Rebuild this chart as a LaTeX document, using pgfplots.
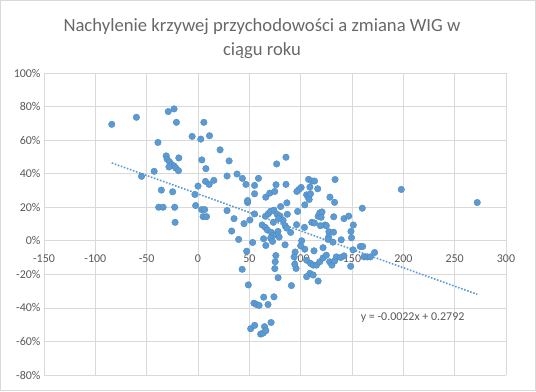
\documentclass[border=0pt]{standalone}
\usepackage{pgfplots}
\pgfplotsset{compat=1.18}
\usepackage{fontspec}
\setmainfont{Carlito}
\definecolor{ptblue}{RGB}{91,155,213}
\definecolor{txtgray}{RGB}{89,89,89}
\definecolor{titlegray}{RGB}{104,104,104}
\definecolor{gridgray}{RGB}{217,217,217}
\pgfplotstableread{
x y
-84 0.694
-60 0.736
-29 0.77
-23.3 0.786
-21 0.706
-39 0.586
-31 0.506
-18.7 0.494
-30 0.486
-27.7 0.47
-25.7 0.454
-23.3 0.446
-21.7 0.434
-19 0.418
-28.3 0.44
-42.7 0.414
-55 0.384
-35.7 0.302
-24.7 0.292
-38.3 0.2
-34 0.2
-22.7 0.2
-22.3 0.11
-5.7 0.622
2.7 0.606
5.7 0.706
3.7 0.482
7.7 0.43
0 0.326
-3 0.276
7.3 0.354
-2.3 0.21
3.5 0.186
6.5 0.186
5 0.144
8.3 0.144
11.2 0.626
21.5 0.542
30.3 0.476
15.4 0.36
10.9 0.336
28.3 0.386
38 0.398
43.2 0.372
46.7 0.336
28.3 0.18
35.1 0.132
32.8 0.058
44.8 0.102
50.6 0.124
48.3 0.228
48.3 0.24
55.1 0.33
55.1 0.28
39.6 0.008
58.9 0.372
55 0.16
76.6 0.458
85.7 0.498
76 0.334
85.7 0.336
66 0.26
69.9 0.284
74.7 0.294
86.6 0.226
80.5 0.204
107.7 0.366
111 0.356
113.5 0.356
116.6 0.31
109 0.32
100.5 0.318
98.4 0.306
96.3 0.294
105.8 0.274
107.4 0.26
108.3 0.246
109.6 0.28
104 0.214
133.5 0.365
128.5 0.26
133 0.229
160 0.194
65.7 0.146
68.6 0.162
70.8 0.176
74 0.182
77 0.158
79.9 0.148
87 0.158
73.4 0.11
97 0.175
117 0.146
118.6 0.166
120.8 0.172
119.9 0.14
110.8 0.11
113.4 0.106
123.8 0.094
132.2 0.143
142.2 0.132
146.8 0.147
78.4 0.132
82.9 0.122
62.5 0.094
65.5 0.08
67.6 0.064
71.5 0.05
77.9 0.056
73.4 0.032
70.8 0.016
79 0.022
63.9 0.012
84.9 0.09
86.3 0.076
90.2 0.05
96 0.096
103.7 0.08
101 0.0
119.2 0.09
125 0.09
127.5 0.054
127.2 0.022
126.6 0.008
132 0.051
139.5 0.006
149 0.056
149.5 0.018
151.3 0.094
53.2 -0.01
47.4 -0.062
43 -0.17
49 -0.263
54.5 -0.372
57 -0.38
59.5 -0.385
64 -0.336
68.2 -0.38
74 -0.334
51.3 -0.524
55.2 -0.504
61 -0.556
63.5 -0.55
64.8 -0.512
66.1 -0.536
71.2 -0.487
66.1 -0.028
72.6 -0.004
75.8 -0.088
75.2 -0.125
74.8 -0.166
78 -0.22
84.8 -0.024
91 -0.267
94.6 -0.067
93.6 -0.096
95.5 -0.165
94.2 -0.14
105.8 -0.116
109.6 -0.135
112.2 -0.145
115.4 -0.145
118.6 -0.125
121.8 -0.102
125 -0.086
128.2 -0.125
130.4 -0.145
109 -0.194
112.2 -0.204
117 -0.24
105.8 -0.214
121.8 -0.041
131.4 -0.008
134.7 -0.096
139 -0.1
133.1 -0.12
142.2 -0.09
104 -0.05
113 -0.06
100 -0.03
158 -0.034
160.4 -0.034
151 -0.054
172 -0.07
161.7 -0.096
164.9 -0.096
167.9 -0.096
148.7 -0.152
198 0.306
272 0.228
}\scatterdata
\begin{document}
\begin{tikzpicture}[x=1bp,y=1bp]
\draw[gridgray, line width=1bp] (0.5,0.5) rectangle (535.5,390.5);
\node[titlegray, font=\fontsize{18.7}{23}\selectfont, anchor=base] at (262,360) {Nachylenie krzywej przychodowości a zmiana WIG w};
\node[titlegray, font=\fontsize{18.7}{23}\selectfont, anchor=base] at (262,336) {ciągu roku};
\begin{axis}[
  at={(44bp,16bp)}, anchor=south west,
  scale only axis, width=462bp, height=302bp,
  xmin=-150, xmax=300, ymin=-0.8, ymax=1.0,
  xtick={-150,-100,-50,0,50,100,150,200,250,300},
  xticklabels={-150,-100,-50,0,50,100,150,200,250,300},
  ytick={-0.8,-0.6,-0.4,-0.2,0,0.2,0.4,0.6,0.8,1.0},
  yticklabels={-80\%,-60\%,-40\%,-20\%,0\%,20\%,40\%,60\%,80\%,100\%},
  grid=major,
  major grid style={gridgray, line width=0.75bp},
  axis x line*=middle, axis y line*=left,
  hide obscured x ticks=false,
  hide obscured y ticks=false,
  axis line style={gridgray, line width=0.75bp},
  major tick length=0pt,
  ticklabel style={txtgray, font=\fontsize{12}{14}\selectfont},
  xticklabel style={yshift=-10bp},
  clip=false,
]
\addplot[only marks, mark=*, mark size=3.3bp, mark options={fill=ptblue, draw=ptblue!85!black, line width=0.3bp}] table[x=x,y=y] {\scatterdata};
\addplot[ptblue, line width=1.6bp, dash pattern=on 1.6bp off 1.6bp] coordinates {(-84,0.4640) (272,-0.3192)};
\node[txtgray, font=\fontsize{12}{14}\selectfont] at (axis cs:209,-0.458) {y = -0.0022x + 0.2792};
\end{axis}
\end{tikzpicture}
\end{document}
